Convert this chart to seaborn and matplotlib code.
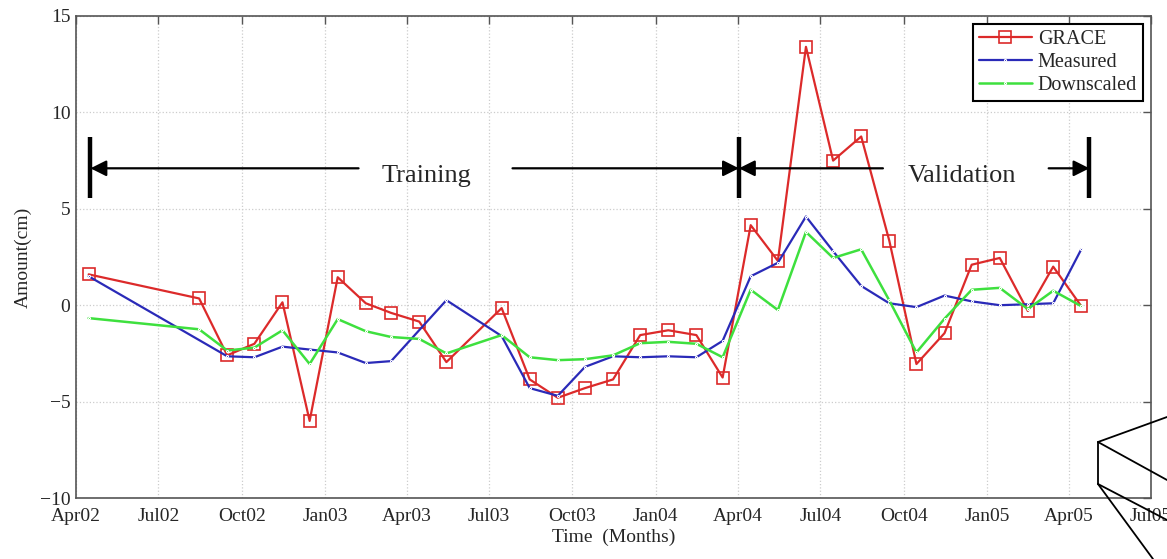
import pandas as pd
import matplotlib.pyplot as plt
import matplotlib.dates as mdates
from matplotlib.lines import Line2D
import seaborn as sns

# --- data (cm) ---
grace_months = ["2002-04", "2002-08", "2002-09", "2002-10", "2002-11", "2002-12",
                "2003-01", "2003-02", "2003-03", "2003-04", "2003-05", "2003-07",
                "2003-08", "2003-09", "2003-10", "2003-11", "2003-12",
                "2004-01", "2004-02", "2004-03", "2004-04", "2004-05", "2004-06",
                "2004-07", "2004-08", "2004-09", "2004-10", "2004-11", "2004-12",
                "2005-01", "2005-02", "2005-03", "2005-04"]
grace = [1.6, 0.35, -2.6, -2.0, 0.15, -6.0,
         1.45, 0.1, -0.4, -0.85, -2.95, -0.15,
         -3.85, -4.8, -4.3, -3.85, -1.55,
         -1.3, -1.55, -3.75, 4.15, 2.3, 13.4,
         7.5, 8.75, 3.35, -3.05, -1.45, 2.1,
         2.45, -0.3, 2.0, -0.05]

measured_months = ["2002-04", "2002-09", "2002-10", "2002-11", "2002-12",
                   "2003-01", "2003-02", "2003-03", "2003-05", "2003-07",
                   "2003-08", "2003-09", "2003-10", "2003-11", "2003-12",
                   "2004-01", "2004-02", "2004-03", "2004-04", "2004-05", "2004-06",
                   "2004-07", "2004-08", "2004-09", "2004-10", "2004-11", "2004-12",
                   "2005-01", "2005-02", "2005-03", "2005-04"]
measured = [1.5, -2.65, -2.7, -2.15, -2.3,
            -2.45, -3.0, -2.9, 0.26, -1.6,
            -4.3, -4.7, -3.2, -2.65, -2.7,
            -2.65, -2.7, -1.85, 1.5, 2.2, 4.6,
            2.8, 1.0, 0.1, -0.1, 0.5, 0.2,
            0.0, 0.05, 0.1, 2.9]

downscaled = [-0.67, -1.25, -2.35, -2.2, -1.3, -3.05,
              -0.72, -1.35, -1.65, -1.75, -2.5, -1.55,
              -2.7, -2.85, -2.8, -2.6, -1.97,
              -1.9, -2.0, -2.7, 0.8, -0.25, 3.8,
              2.45, 2.9, 0.25, -2.45, -0.7, 0.8,
              0.9, -0.2, 0.75, -0.05]

# monthly values are plotted in the middle of the month
df_grace = pd.DataFrame({"Tarih": pd.to_datetime(grace_months) + pd.Timedelta(days=14), "Deger": grace})
df_meas = pd.DataFrame({"Tarih": pd.to_datetime(measured_months) + pd.Timedelta(days=14), "Deger": measured})
df_down = pd.DataFrame({"Tarih": pd.to_datetime(grace_months) + pd.Timedelta(days=14), "Deger": downscaled})

sns.set_style("white")
plt.rcParams['font.family'] = ['Liberation Serif', 'DejaVu Serif']

fig = plt.figure(figsize=(11.67, 5.59), dpi=100)
ax = fig.add_axes([0.0651, 0.1091, 0.9212, 0.8623])

sns.lineplot(data=df_grace, x="Tarih", y="Deger", ax=ax, color="#dc2a2a", lw=1.6,
             marker="s", markersize=8, markerfacecolor="none", markeredgecolor="#dc2a2a",
             markeredgewidth=1.2, label="GRACE")
sns.lineplot(data=df_meas, x="Tarih", y="Deger", ax=ax, color="#2a2ab8", lw=1.6,
             marker=".", markersize=3, label="Measured")
sns.lineplot(data=df_down, x="Tarih", y="Deger", ax=ax, color="#3ee03e", lw=1.8,
             marker=".", markersize=3, label="Downscaled")

# axes, ticks, grid (MATLAB look)
ax.set_xlim(pd.Timestamp("2002-04-01"), pd.Timestamp("2005-07-01"))
ax.set_ylim(-10, 15)
ax.set_yticks([-10, -5, 0, 5, 10, 15])
ax.xaxis.set_major_locator(mdates.MonthLocator(bymonth=[1, 4, 7, 10]))
ax.xaxis.set_major_formatter(mdates.DateFormatter("%b%y"))
ax.tick_params(direction="in", length=6, width=1, color="#555555", labelsize=14,
               top=True, right=True)
ax.tick_params(axis="x", pad=7)
ax.tick_params(axis="y", pad=4)
ax.grid(True, linestyle=":", color="#cccccc", linewidth=0.9)
for s in ax.spines.values():
    s.set_color("#555555")
    s.set_linewidth(1.2)

ax.set_xlabel("Time  (Months)", fontsize=14, labelpad=3)
ax.set_ylabel("Amount(cm)", fontsize=14, labelpad=6)

# Training / Validation markers
t0 = pd.Timestamp("2002-04-17")
t1 = pd.Timestamp("2004-04-02")
t2 = pd.Timestamp("2005-04-24")
ax.vlines([t0, t1, t2], 5.55, 8.7, colors="k", lw=3.2, zorder=5)
ok = dict(arrowstyle="-|>", lw=1.6, color="k", mutation_scale=24, shrinkA=0, shrinkB=0)
ax.annotate("", xy=(t0, 7.1), xytext=(pd.Timestamp("2003-02-07"), 7.1), arrowprops=ok)
ax.annotate("", xy=(t1, 7.1), xytext=(pd.Timestamp("2003-07-27"), 7.1), arrowprops=ok)
ax.annotate("", xy=(t1, 7.1), xytext=(pd.Timestamp("2004-09-08"), 7.1), arrowprops=ok)
ax.annotate("", xy=(t2, 7.1), xytext=(pd.Timestamp("2005-03-10"), 7.1), arrowprops=ok)
ax.text(pd.Timestamp("2003-04-23"), 6.4, "Training", fontsize=19, ha="center", va="baseline")
ax.text(pd.Timestamp("2004-12-04"), 6.4, "Validation", fontsize=19, ha="center", va="baseline")

leg = ax.legend(loc="upper right", fontsize=14.5, frameon=True, fancybox=False, framealpha=1,
                edgecolor="k", handlelength=2.6, labelspacing=0.2, borderpad=0.3,
                borderaxespad=0.4, handletextpad=0.3)
leg.get_frame().set_linewidth(1.5)

# leftover lines of a neighbouring figure at the bottom right corner
W, H = 1167, 559
kenar = [((1098, 442), (1167, 417)), ((1098, 442), (1167, 480)), ((1098, 442), (1098, 484)),
         ((1098, 484), (1167, 520)), ((1098, 484), (1153, 559))]
for (xa, ya), (xb, yb) in kenar:
    fig.add_artist(Line2D([xa / W, xb / W], [1 - ya / H, 1 - yb / H],
                          transform=fig.transFigure, color="k", lw=1.3))

plt.savefig("out.png", dpi=100)
